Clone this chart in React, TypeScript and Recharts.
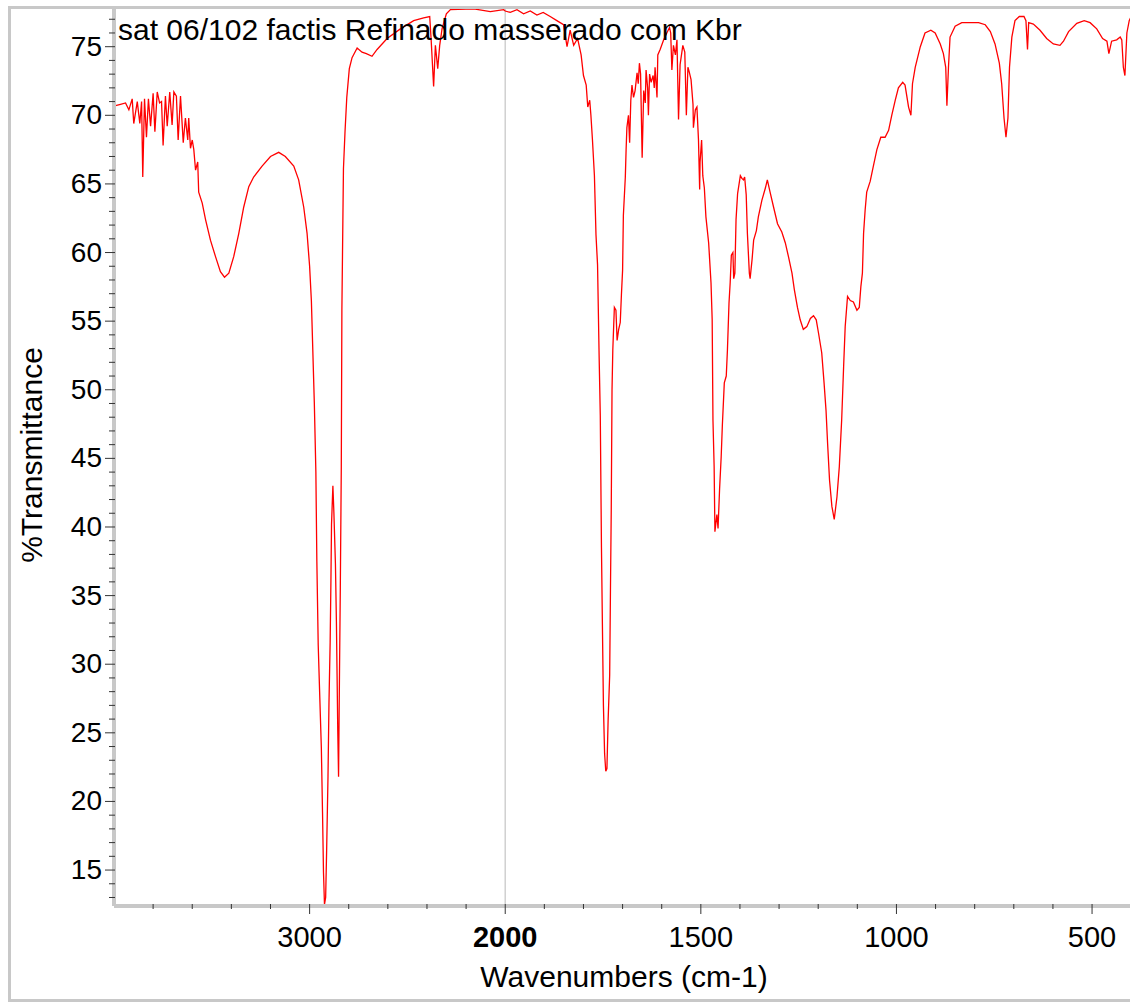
import { LineChart, Line, XAxis, YAxis, ReferenceLine } from 'recharts'

const FONT = '"Liberation Sans", Arial, sans-serif'

const title = 'sat 06/102 factis Refinado masserado com Kbr'
const xLabel = 'Wavenumbers (cm-1)'
const yLabel = '%Transmittance'

const xMajorTicks = [3000, 2000, 1500, 1000, 500]
const xMinorTicks = [3800, 3600, 3400, 3200, 2800, 2600, 2400, 2200, 1900, 1800, 1700, 1600, 1400, 1300, 1200, 1100, 900, 800, 700, 600]
const yMajorTicks = [15, 20, 25, 30, 35, 40, 45, 50, 55, 60, 65, 70, 75]
const yMinorTicks = [13, 14, 16, 17, 18, 19, 21, 22, 23, 24, 26, 27, 28, 29, 31, 32, 33, 34, 36, 37, 38, 39, 41, 42, 43, 44, 46, 47, 48, 49, 51, 52, 53, 54, 56, 57, 58, 59, 61, 62, 63, 64, 66, 67, 68, 69, 71, 72, 73, 74, 76, 77]

// wavenumber (cm-1)
const wavenumbers = [
  4000, 3992, 3967, 3941, 3924, 3907, 3899, 3881, 3868, 3859, 3853, 3844, 3834, 3824, 3813, 3800, 3791, 3779, 3767, 3757,
  3749, 3737, 3728, 3715, 3703, 3694, 3681, 3672, 3660, 3646, 3635, 3623, 3618, 3609, 3600, 3592, 3583, 3572, 3567, 3549,
  3532, 3507, 3481, 3456, 3435, 3413, 3388, 3362, 3337, 3311, 3286, 3243, 3200, 3158, 3124, 3081, 3056, 3030, 3013, 3000,
  2991, 2976, 2968, 2963, 2956, 2948, 2940, 2934, 2929, 2924, 2918, 2913, 2906, 2901, 2895, 2891, 2888, 2881, 2876, 2868,
  2863, 2856, 2852, 2847, 2843, 2838, 2835, 2830, 2827, 2819, 2810, 2797, 2783, 2757, 2732, 2710, 2681, 2655, 2604, 2536,
  2468, 2417, 2386, 2379, 2366, 2357, 2345, 2335, 2323, 2301, 2280, 2161, 2076, 2008, 2000,
  1987, 1970, 1953, 1936, 1919, 1903, 1885, 1868, 1851, 1842, 1834, 1825, 1815, 1806, 1800, 1793, 1789, 1784, 1781, 1777,
  1772, 1768, 1764, 1760, 1757, 1754, 1752, 1749, 1746, 1743, 1740, 1737, 1733, 1731, 1729, 1727, 1725, 1721, 1717, 1714,
  1710, 1706, 1703, 1700, 1698, 1693, 1691, 1689, 1685, 1682, 1679, 1676, 1672, 1668, 1663, 1660, 1657, 1654, 1650, 1646,
  1642, 1640, 1636, 1634, 1631, 1627, 1622, 1619, 1617, 1612, 1610, 1604, 1595, 1587, 1580, 1577, 1574, 1570, 1565, 1561,
  1557, 1553, 1546, 1541, 1537, 1533, 1530, 1525, 1520, 1519, 1514, 1510, 1506, 1503, 1502, 1498, 1495, 1491, 1487, 1480,
  1474, 1471, 1469, 1466, 1464, 1459, 1456, 1452, 1448, 1445, 1440, 1435, 1432, 1428, 1425, 1422, 1418, 1416, 1413, 1410,
  1406, 1399, 1395, 1391, 1388, 1384, 1381, 1376, 1374, 1369, 1365, 1358, 1353, 1344, 1335, 1330, 1323, 1314, 1304, 1293,
  1284, 1276, 1267, 1261, 1253, 1246, 1238, 1229, 1220, 1212, 1205, 1199, 1191, 1185, 1180, 1176, 1171, 1165, 1159, 1152,
  1146, 1140, 1135, 1131, 1125, 1118, 1110, 1101, 1095, 1091, 1087, 1084, 1080, 1076, 1067, 1059, 1050, 1040, 1029, 1020,
  1012, 1003, 995, 984, 978, 969, 963, 959, 952, 939, 927, 912, 901, 888, 880, 874, 871, 867, 863, 850,
  833, 812, 790, 773, 760, 748, 737, 731, 725, 720, 715, 711, 705, 697, 686, 674, 669, 665, 662, 650,
  633, 616, 599, 582, 573, 560, 539, 520, 505, 488, 473, 462, 457, 450, 437, 428, 424, 420, 416, 411,
  405, 400,
]

// %T at each wavenumber
const transmittance = [
  70.7, 70.7, 70.8, 70.9, 70.4, 71.2, 69.4, 71.0, 69.4, 71.0, 65.5, 71.2, 68.4, 71.2, 69.2, 71.6, 68.8, 71.7, 70.9, 71.0,
  67.8, 71.4, 69.2, 71.7, 69.3, 71.7, 71.4, 68.2, 71.4, 68.0, 69.8, 68.2, 69.8, 67.6, 68.2, 67.5, 66.0, 66.6, 64.4, 63.6,
  62.4, 60.9, 59.7, 58.6, 58.2, 58.5, 59.7, 61.4, 63.3, 64.8, 65.5, 66.3, 67.0, 67.3, 67.0, 66.3, 65.3, 63.3, 61.4, 59.0,
  56.5, 49.1, 44.0, 37.5, 31.4, 27.6, 23.9, 19.2, 14.8, 12.5, 13.0, 16.4, 21.8, 27.2, 31.6, 36.1, 40.2, 43.0, 41.1, 37.3,
  33.1, 25.1, 21.8, 29.7, 35.6, 44.4, 55.8, 62.3, 66.1, 68.8, 71.3, 73.4, 74.2, 74.9, 74.6, 74.5, 74.3, 74.8, 75.6, 76.3,
  76.9, 77.1, 77.2, 75.6, 72.1, 75.1, 73.4, 75.1, 76.3, 77.4, 77.7, 77.75, 77.55, 77.7, 77.6,
  77.5, 77.7, 77.4, 77.6, 77.3, 77.5, 77.2, 76.9, 76.6, 75.0, 76.2, 75.1, 75.6, 74.4, 72.9, 72.2, 70.6, 71.1, 70.0, 68.2,
  65.6, 61.3, 59.1, 52.5, 48.1, 38.5, 33.8, 27.0, 23.5, 22.2, 22.4, 25.9, 29.2, 35.4, 41.2, 50.0, 52.9, 56.0, 55.8, 53.6,
  54.4, 54.9, 56.9, 58.7, 62.7, 65.5, 67.5, 69.1, 70.0, 68.0, 71.1, 72.2, 71.3, 71.8, 73.1, 72.3, 73.8, 73.0, 66.9, 71.8,
  70.9, 73.3, 72.0, 70.0, 73.0, 72.4, 72.9, 72.0, 73.5, 71.3, 74.4, 74.8, 75.5, 76.0, 76.4, 76.0, 73.3, 75.1, 74.4, 75.5,
  69.7, 73.7, 75.1, 74.6, 70.0, 73.5, 73.2, 72.6, 70.8, 69.1, 70.4, 70.6, 68.2, 64.6, 66.6, 68.2, 65.6, 64.7, 62.6, 60.7,
  57.8, 55.1, 47.8, 44.4, 39.65, 40.9, 39.9, 42.8, 45.1, 47.4, 50.5, 51.0, 52.9, 56.3, 57.8, 59.8, 60.0, 58.1, 58.5, 62.4,
  64.3, 65.6, 65.4, 65.3, 65.5, 64.2, 61.4, 58.5, 58.1, 59.5, 60.9, 61.6, 62.6, 63.8, 64.7, 65.3, 64.4, 63.3, 62.1, 61.5,
  60.7, 59.7, 58.5, 57.3, 56.0, 55.1, 54.4, 54.6, 55.2, 55.4, 55.1, 54.1, 52.7, 50.5, 48.5, 46.1, 43.4, 41.5, 40.55, 42.2,
  44.4, 47.8, 51.7, 54.6, 56.8, 56.5, 56.4, 55.8, 56.0, 57.5, 58.5, 61.4, 63.1, 64.4, 65.2, 66.3, 67.5, 68.4, 68.4, 68.9,
  70.0, 71.1, 72.0, 72.4, 72.2, 70.6, 70.0, 72.3, 73.5, 75.0, 76.0, 76.2, 76.0, 75.2, 74.5, 73.5, 70.7, 73.5, 75.7, 76.5,
  76.75, 76.75, 76.75, 76.6, 76.1, 75.2, 73.8, 72.3, 69.8, 68.4, 69.8, 73.5, 75.7, 76.9, 77.2, 77.2, 76.9, 74.8, 76.75, 76.65,
  76.2, 75.6, 75.2, 75.1, 75.4, 76.1, 76.7, 76.9, 76.75, 76.3, 75.6, 75.4, 74.5, 75.4, 75.5, 75.7, 75.5, 73.5, 72.9, 76.0,
  76.9, 77.2,
]

// the x axis is split at 2000: below it, one cm-1 takes twice the room
const toT = (wn: number) => (wn >= 2000 ? 4000 - wn : 2000 + (2000 - wn) * 2)
const fromT = (t: number) => Math.round(t <= 2000 ? 4000 - t : 2000 - (t - 2000) / 2)

const data = wavenumbers.map((w, i) => ({ t: toT(w), T: transmittance[i] }))
const xTicks = [...xMajorTicks, ...xMinorTicks].map(toT).sort((a, b) => a - b)
const yTicks = [...yMajorTicks, ...yMinorTicks].sort((a, b) => a - b)

function XTick(props: any) {
  const { x, y, payload } = props
  const wn = fromT(payload.value)
  const major = xMajorTicks.includes(wn)
  return (
    <g>
      <line x1={x} x2={x} y1={y - 2} y2={y + (major ? 8 : 3)} stroke="#333" strokeWidth={1} />
      {major && (
        <text x={x} y={y + 41} textAnchor="middle" fontSize={29} fontFamily={FONT}
          fontWeight={wn === 2000 ? 'bold' : 'normal'} fill="#000">
          {wn}
        </text>
      )}
    </g>
  )
}

function YTick(props: any) {
  const { x, y, payload } = props
  const v = payload.value
  const major = yMajorTicks.includes(v)
  return (
    <g>
      <line x1={x + 1} x2={x - (major ? 9 : 5)} y1={y} y2={y} stroke="#333" strokeWidth={1} />
      {major && (
        <text x={x - 12} y={y + 9} textAnchor="end" fontSize={28} fontFamily={FONT} fill="#000">
          {v}
        </text>
      )}
    </g>
  )
}

export default function App() {
  return (
    <div style={{ position: 'absolute', left: 0, top: 0, width: 1130, height: 1003, overflow: 'hidden', background: '#fff' }}>
      <LineChart width={1130} height={1003} data={data} margin={{ top: 8, right: 0, bottom: 57, left: 54 }}>
        <XAxis
          dataKey="t"
          type="number"
          domain={[0, 5194]}
          allowDataOverflow
          ticks={xTicks}
          interval={0}
          tick={<XTick />}
          tickLine={false}
          tickSize={0}
          tickMargin={0}
          height={40}
          axisLine={{ stroke: '#c8c8c8', strokeWidth: 4 }}
        />
        <YAxis
          type="number"
          domain={[12.38, 77.82]}
          allowDataOverflow
          ticks={yTicks}
          interval={0}
          tick={<YTick />}
          tickLine={false}
          tickSize={0}
          tickMargin={0}
          width={60}
          axisLine={{ stroke: '#c8c8c8', strokeWidth: 4 }}
        />
        <ReferenceLine x={2000} stroke="#d0d0d0" strokeWidth={1.5} />
        <Line dataKey="T" type="linear" stroke="#ff0000" strokeWidth={1.3} dot={false} isAnimationActive={false} />
      </LineChart>
      <svg width={1130} height={1003} style={{ position: 'absolute', left: 0, top: 0, pointerEvents: 'none' }}>
        <rect x={9.5} y={7.5} width={1130} height={993} fill="none" stroke="#c8c8c8" strokeWidth={3} />
        <text x={118} y={40} fontSize={30} fontFamily={FONT} fill="#000">{title}</text>
        <text x={624} y={987} textAnchor="middle" fontSize={30} fontFamily={FONT} fill="#000">{xLabel}</text>
        <text x={42} y={455} textAnchor="middle" fontSize={30} fontFamily={FONT} fill="#000" transform="rotate(-90 42 455)">
          {yLabel}
        </text>
      </svg>
    </div>
  )
}
